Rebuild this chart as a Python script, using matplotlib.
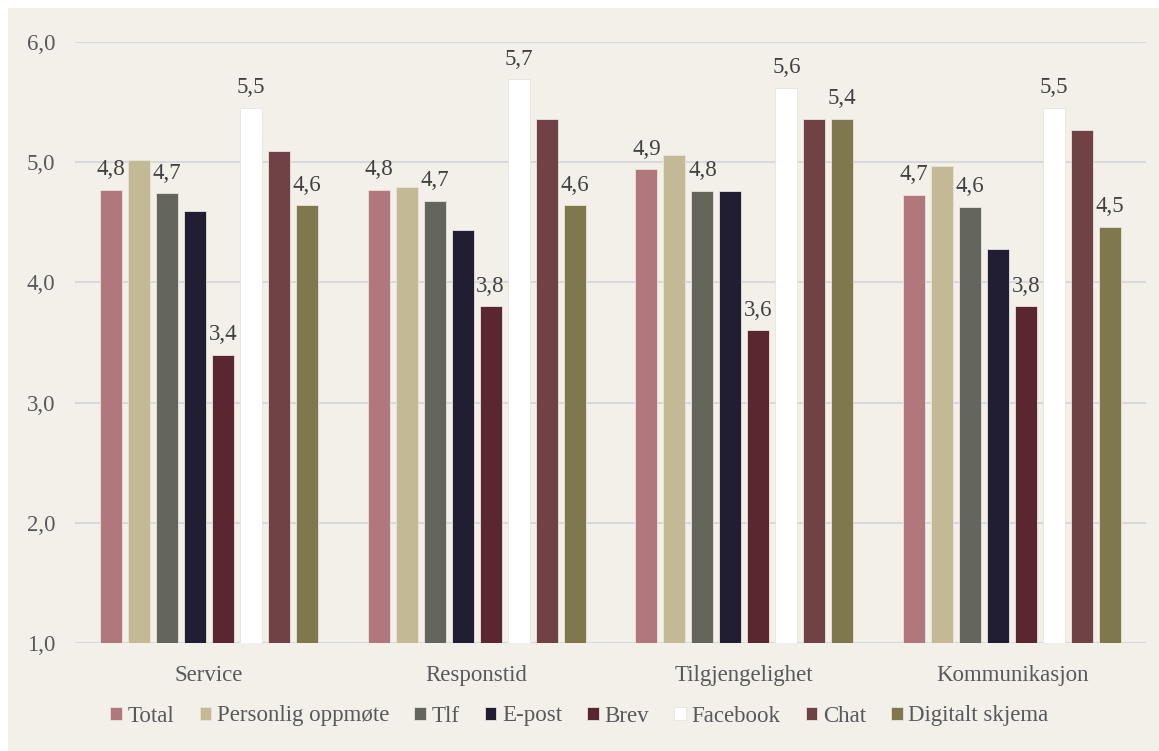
import matplotlib.pyplot as plt
import numpy as np
from matplotlib.patches import Rectangle

plt.rcParams['font.family'] = ['Liberation Serif', 'DejaVu Serif']

# data
categories = ['Service', 'Responstid', 'Tilgjengelighet', 'Kommunikasjon']
series = ['Total', 'Personlig oppmøte', 'Tlf', 'E-post', 'Brev',
          'Facebook', 'Chat', 'Digitalt skjema']
values = [
    [4.77, 4.77, 4.94, 4.73],   # Total
    [5.02, 4.79, 5.06, 4.97],   # Personlig oppmøte
    [4.74, 4.68, 4.76, 4.63],   # Tlf
    [4.59, 4.44, 4.76, 4.28],   # E-post
    [3.40, 3.80, 3.60, 3.80],   # Brev
    [5.45, 5.69, 5.62, 5.45],   # Facebook
    [5.09, 5.36, 5.36, 5.27],   # Chat
    [4.64, 4.64, 5.36, 4.46],   # Digitalt skjema
]
colors = ['#B0787C', '#C3B995', '#64665C', '#211D33', '#5A2730',
          '#FFFFFF', '#704145', '#80784D']
labelled = ['Total', 'Tlf', 'Brev', 'Facebook', 'Digitalt skjema']

fig = plt.figure(figsize=(11.59, 7.51), dpi=100, facecolor='white')
# beige card behind the chart
fig.patches.append(Rectangle((8 / 1159, 0), 1, 1 - 8 / 751,
                             transform=fig.transFigure,
                             facecolor='#F3F0EA', edgecolor='none', zorder=-1))

ax = fig.add_axes([75 / 1159, 1 - 643 / 751, (1146 - 75) / 1159, (643 - 42) / 751])
ax.set_facecolor('none')

x = np.arange(len(categories))
step = 0.1045
width = 0.082
base = 1.0
for i, (name, vals, col) in enumerate(zip(series, values, colors)):
    pos = x + (i - 3.5) * step
    heights = np.array(vals) - base
    ax.bar(pos, heights, width, bottom=base, color=col, label=name,
           edgecolor='#E8E4DC', linewidth=0.6, zorder=3)
    if name in labelled:
        for p, v in zip(pos, vals):
            ax.annotate(f'{v:.1f}'.replace('.', ','), (p, v),
                        xytext=(0, 7), textcoords='offset points',
                        ha='center', va='bottom', fontsize=16.5, color='#404040')

ax.set_xlim(-0.5, len(categories) - 0.5)
ax.set_ylim(1, 6)
ax.set_yticks([1, 2, 3, 4, 5, 6])
ax.set_yticklabels([f'{t:.1f}'.replace('.', ',') for t in [1, 2, 3, 4, 5, 6]])
ax.set_xticks(x)
ax.set_xticklabels(categories)
ax.tick_params(axis='both', length=0, labelsize=16.5, colors='#595959')
ax.tick_params(axis='y', pad=14)
ax.tick_params(axis='x', pad=16)
ax.yaxis.grid(True, color='#D9D9D9', linewidth=1.5, zorder=0)
ax.set_axisbelow(True)
for s in ax.spines.values():
    s.set_visible(False)

fig.legend(loc='center', bbox_to_anchor=(0.5, 1 - 716 / 751), ncol=8,
           frameon=False, prop={'family': ['Liberation Serif'], 'size': 16.5},
           handlelength=0.5, handleheight=0.5,
           handletextpad=0.25, columnspacing=1.1, labelcolor='#595959')

fig.savefig('out.png', dpi=100, facecolor=fig.get_facecolor())
